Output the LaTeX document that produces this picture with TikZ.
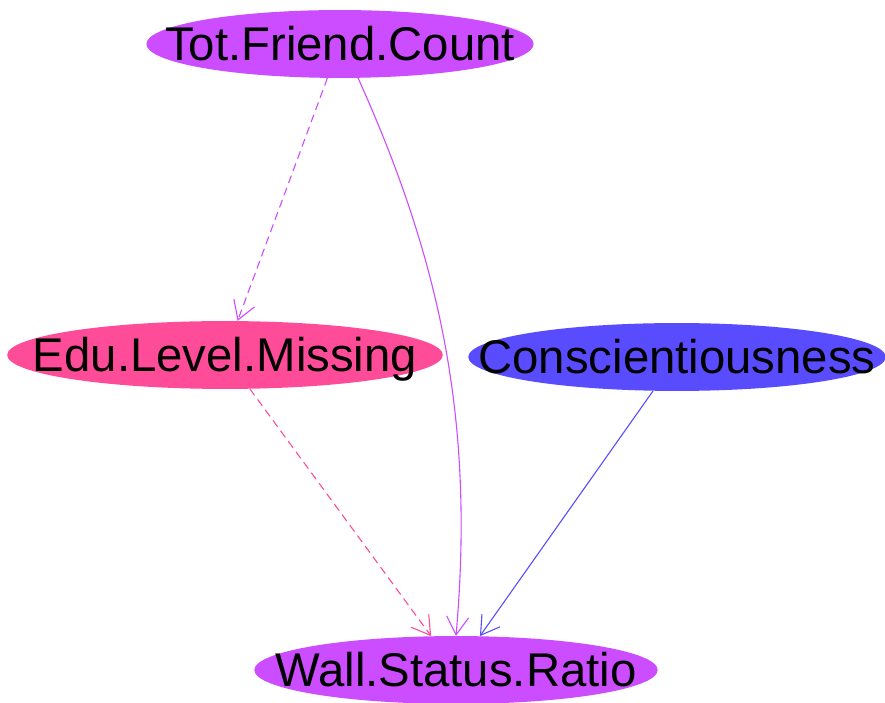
\documentclass[tikz,border=0pt]{standalone}
\usepackage{fontspec}
\setmainfont{Liberation Sans}
\usetikzlibrary{shapes.geometric, arrows.meta}

\definecolor{varpurple}{RGB}{204,76,255}
\definecolor{varpink}{RGB}{255,76,153}
\definecolor{varblue}{RGB}{89,76,255}

\begin{document}
\begin{tikzpicture}[x=1bp, y=1bp,
  var/.style={ellipse, inner xsep=-38bp, inner ysep=2.5bp,
    text height=38bp, text depth=5bp, font=\fontsize{47.5}{52}\selectfont},
  edge/.style={line width=1.1bp, -{Straight Barb[length=18bp, width=22bp]}},
  weak/.style={edge, dash pattern=on 8bp off 5bp}]

% Canvas
\useasboundingbox (0,0) rectangle (885,703);

% Variables
\node[var, fill=varpurple] (friends) at (340,659) {Tot.Friend.Count};
\node[var, fill=varpink] (edu) at (225,348) {Edu.Level.Missing};
\node[var, fill=varblue, inner xsep=-51bp] (consc) at (677,346) {Conscientiousness};
\node[var, fill=varpurple] (wall) at (456,33) {Wall.Status.Ratio};

% Links (dashed = weak)
\draw[weak, varpurple] (friends) -- (edu);
\draw[edge, varpurple] (friends.-62) .. controls (440,443) and (475,283) .. (wall.north);
\draw[weak, varpink] (edu) -- (wall);
\draw[edge, varblue] (consc) -- (wall);

\end{tikzpicture}
\end{document}
